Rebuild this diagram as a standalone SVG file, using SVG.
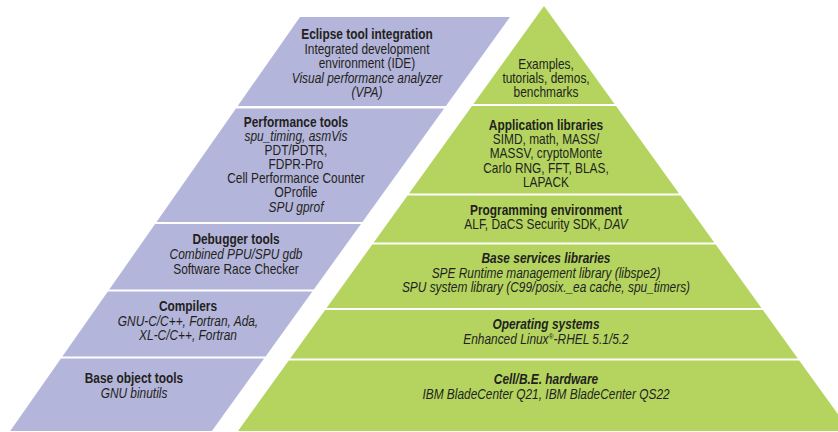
<svg xmlns="http://www.w3.org/2000/svg" width="838" height="432" viewBox="0 0 838 432">
<style>
.lav{fill:#b4b5da}
.grn{fill:#b4d45f}
text{font-family:"Liberation Sans",Arial,sans-serif;font-size:14px;fill:#231f20;text-anchor:middle}
.b{font-weight:bold}
.i{font-style:italic}
.bi{font-weight:bold;font-style:italic}
</style>
<rect width="838" height="432" fill="#ffffff"/>
<g id="eclipse">
<polygon class="lav" points="300,17 510,17 445.9,106 237.7,106"/>
<g transform="translate(367 0) scale(0.85 1)">
<text x="0" y="39" class="b">Eclipse tool integration</text>
<text x="0" y="54">Integrated development</text>
<text x="0" y="68.5">environment (IDE)</text>
<text x="0" y="83" class="i">Visual performance analyzer</text>
<text x="0" y="97.5" class="i">(VPA)</text>
</g>
</g>
<g id="performance">
<polygon class="lav" points="235.95,108.5 444.12,108.5 362.4,222 156.5,222"/>
<g transform="translate(296 0) scale(0.85 1)">
<text x="0" y="127" class="b">Performance tools</text>
<text x="0" y="141" class="i">spu_timing, asmVis</text>
<text x="0" y="155">PDT/PDTR,</text>
<text x="0" y="169">FDPR-Pro</text>
<text x="0" y="183.5">Cell Performance Counter</text>
<text x="0" y="197.5">OProfile</text>
<text x="0" y="212" class="i">SPU gprof</text>
</g>
</g>
<g id="debugger">
<polygon class="lav" points="155.1,224 360.96,224 313.8,289.5 109.25,289.5"/>
<g transform="translate(236 0) scale(0.85 1)">
<text x="0" y="244" class="b">Debugger tools</text>
<text x="0" y="259" class="i">Combined PPU/SPU gdb</text>
<text x="0" y="274">Software Race Checker</text>
</g>
</g>
<g id="compilers">
<polygon class="lav" points="107.85,291.5 312.36,291.5 265.56,356.5 62.35,356.5"/>
<g transform="translate(188 0) scale(0.85 1)">
<text x="0" y="311" class="b">Compilers</text>
<text x="0" y="326" class="i">GNU-C/C++, Fortran, Ada,</text>
<text x="0" y="340" class="i">XL-C/C++, Fortran</text>
</g>
</g>
<g id="baseobject">
<polygon class="lav" points="60.95,358.5 264.12,358.5 211.92,431 10.2,431"/>
<g transform="translate(134 0) scale(0.85 1)">
<text x="0" y="383" class="b">Base object tools</text>
<text x="0" y="398" class="i">GNU binutils</text>
</g>
</g>
<g id="examples">
<polygon class="grn" points="544,6 614.56,104 473.44,104"/>
<g transform="translate(546 0) scale(0.85 1)">
<text x="0" y="69">Examples,</text>
<text x="0" y="83">tutorials, demos,</text>
<text x="0" y="97">benchmarks</text>
</g>
</g>
<g id="applibs">
<polygon class="grn" points="472,106 616,106 679,193.5 409,193.5"/>
<g transform="translate(546 0) scale(0.85 1)">
<text x="0" y="130" class="b">Application libraries</text>
<text x="0" y="144">SIMD, math, MASS/</text>
<text x="0" y="158">MASSV, cryptoMonte</text>
<text x="0" y="173">Carlo RNG, FFT, BLAS,</text>
<text x="0" y="187">LAPACK</text>
</g>
</g>
<g id="progenv">
<polygon class="grn" points="407.56,195.5 680.44,195.5 714.28,242.5 373.72,242.5"/>
<g transform="translate(546 0) scale(0.85 1)">
<text x="0" y="215" class="b">Programming environment</text>
<text x="0" y="229">ALF, DaCS Security SDK, <tspan class="i">DAV</tspan></text>
</g>
</g>
<g id="baseservices">
<polygon class="grn" points="372.28,244.5 715.72,244.5 761.44,308 326.56,308"/>
<g transform="translate(546 0) scale(0.85 1)">
<text x="0" y="263" class="bi">Base services libraries</text>
<text x="0" y="278" class="i">SPE Runtime management library (libspe2)</text>
<text x="0" y="292" class="i">SPU system library (C99/posix._ea cache, spu_timers)</text>
</g>
</g>
<g id="os">
<polygon class="grn" points="325.12,310 762.88,310 797.8,358.5 290.2,358.5"/>
<g transform="translate(546 0) scale(0.85 1)">
<text x="0" y="329" class="bi">Operating systems</text>
<text x="0" y="344" class="i">Enhanced Linux<tspan font-size="8" dy="-5">®</tspan><tspan dy="5">-RHEL 5.1/5.2</tspan></text>
</g>
</g>
<g id="hardware">
<polygon class="grn" points="288.76,360.5 799.24,360.5 850,431 238,431"/>
<g transform="translate(546 0) scale(0.85 1)">
<text x="0" y="384" class="bi">Cell/B.E. hardware</text>
<text x="0" y="399" class="i">IBM BladeCenter Q21, IBM BladeCenter QS22</text>
</g>
</g>
<g id="connectors"/>
</svg>
